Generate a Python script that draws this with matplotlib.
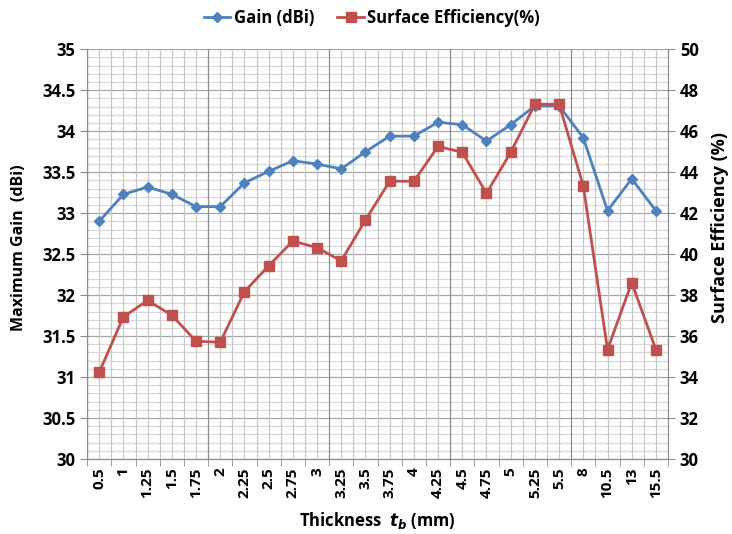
import numpy as np
import matplotlib
matplotlib.use("Agg")
import matplotlib.pyplot as plt

# Data
thickness = ["0.5", "1", "1.25", "1.5", "1.75", "2", "2.25", "2.5", "2.75", "3", "3.25", "3.5",
             "3.75", "4", "4.25", "4.5", "4.75", "5", "5.25", "5.5", "8", "10.5", "13", "15.5"]
gain_dbi = [32.90, 33.23, 33.32, 33.23, 33.08, 33.08, 33.37, 33.51, 33.64, 33.60, 33.54, 33.75,
            33.94, 33.94, 34.11, 34.08, 33.88, 34.08, 34.31, 34.31, 33.92, 33.03, 33.42, 33.03]
efficiency = [34.23, 36.94, 37.74, 37.02, 35.75, 35.70, 38.17, 39.43, 40.64, 40.32, 39.67, 41.67,
              43.56, 43.56, 45.26, 44.97, 42.97, 44.97, 47.32, 47.32, 43.33, 35.34, 38.61, 35.34]

plt.rcParams['font.family'] = ['Open Sans', 'DejaVu Sans']
plt.rcParams['font.weight'] = 'bold'

blue = "#4F81BD"
red = "#C0504D"

fig = plt.figure(figsize=(7.32, 5.34), dpi=100)
ax = fig.add_axes([0.119, 0.1404, 0.7936, 0.7673])
ax2 = ax.twinx()

x = np.arange(len(thickness))
n = len(x)

# gridlines
for v in np.arange(30, 35.001, 0.1):
    major = abs(v * 2 - round(v * 2)) < 1e-6
    ax.axhline(v, color="#a6a6a6" if major else "#d9d9d9", lw=0.9, zorder=0)
for k in range(2 * n + 1):
    xv = -0.5 + k * 0.5
    major = (k % 10 == 0)
    ax.axvline(xv, color="#8c8c8c" if major else "#c8c8c8", lw=0.9, zorder=0)

ax.plot(x, gain_dbi, color=blue, lw=2, marker="D", ms=5, zorder=3, label="Gain (dBi)")
ax2.plot(x, efficiency, color=red, lw=2, marker="s", ms=7, zorder=3, label="Surface Efficiency(%)")

ax.set_xlim(-0.5, n - 0.5)
ax.set_ylim(30, 35)
ax2.set_ylim(30, 50)
ax.set_yticks(np.arange(30, 35.01, 0.5))
ax.set_yticklabels([f"{v:g}" for v in np.arange(30, 35.01, 0.5)])
ax2.set_yticks(np.arange(30, 50.01, 2))

ax.set_xticks(x)
ax.set_xticklabels(thickness, rotation=90, fontsize=11, fontweight="bold")
ax.set_xticks(np.arange(-0.5, n, 1), minor=True)
ax.tick_params(axis="x", which="major", length=0, pad=6)
ax.tick_params(axis="x", which="minor", length=5, color="#8c8c8c")
ax.tick_params(axis="y", labelsize=12, length=5, color="#8c8c8c")
ax2.tick_params(axis="y", labelsize=12, length=5, color="#8c8c8c")
for t in ax.get_yticklabels() + ax2.get_yticklabels():
    t.set_fontweight("bold")

for a in (ax, ax2):
    for s in a.spines.values():
        s.set_color("#8c8c8c")
    a.spines["top"].set_visible(False)

ax.set_ylabel("Maximum Gain  (dBi)", fontsize=11.5, fontweight="bold")
ax.yaxis.set_label_coords(-0.104, 0.515)
ax2.set_ylabel("Surface Efficiency (%)", fontsize=13, fontweight="bold")
ax2.yaxis.set_label_coords(1.074, 0.566)
ax.set_xlabel("Thickness  $\\mathit{t_b}$ (mm)", fontsize=12, fontweight="bold", labelpad=9)

h1, l1 = ax.get_legend_handles_labels()
h2, l2 = ax2.get_legend_handles_labels()
fig.legend(h1 + h2, l1 + l2, loc="upper center", bbox_to_anchor=(0.508, 1.012), ncol=2,
           frameon=False, fontsize=12, handlelength=1.6, columnspacing=1.4, handletextpad=0.2)

fig.savefig("out.png", dpi=100)
